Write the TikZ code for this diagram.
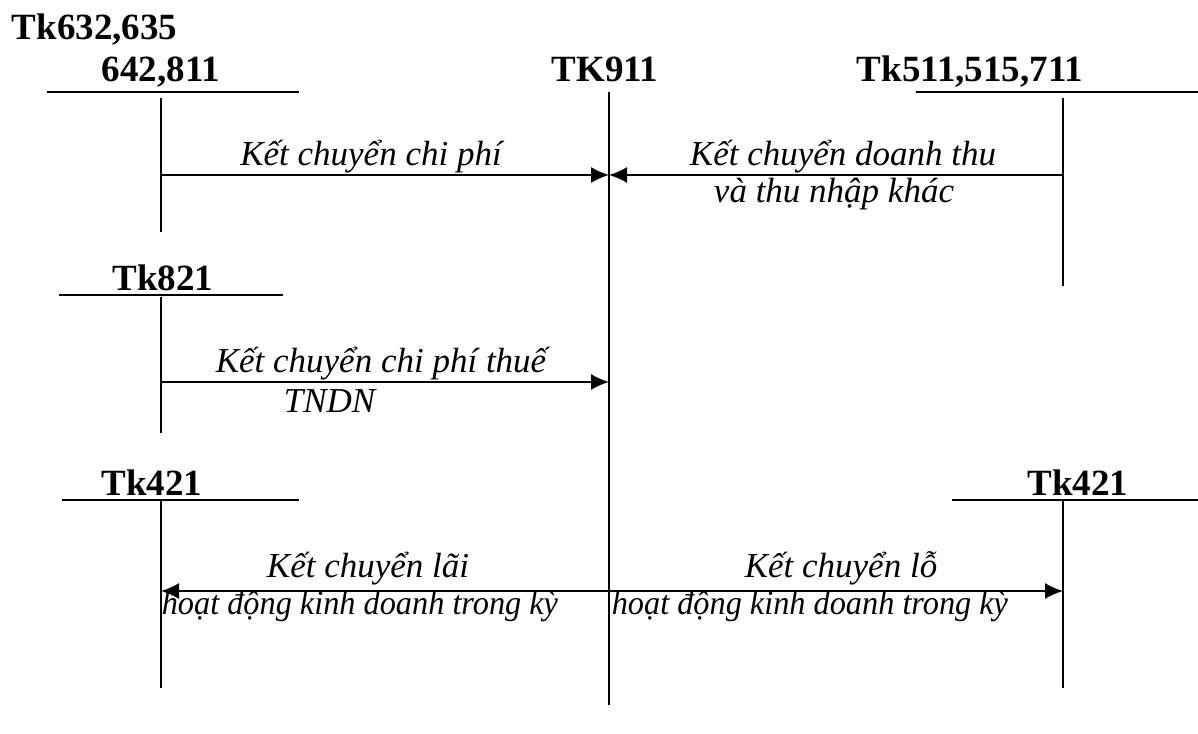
\documentclass[tikz,border=0pt]{standalone}
\usepackage{fontspec}
\usepackage{graphicx}
\setmainfont{Liberation Serif}
\usetikzlibrary{arrows.meta}
\begin{document}
\begin{tikzpicture}[x=1pt,y=-1pt,line width=1.6pt,
  acct/.style={font=\bfseries\fontsize{37}{42}\selectfont,inner sep=0pt,anchor=base},
  lbl/.style={font=\itshape\fontsize{35}{40}\selectfont,inner sep=0pt,anchor=base},
  lblsm/.style={font=\itshape\fontsize{34}{40}\selectfont,inner sep=0pt,anchor=base west},
  flow/.style={-{Latex[length=18pt,width=16pt]}}]
\path[use as bounding box] (0,0) rectangle (1198,733);

% account labels
\node[acct,anchor=base west] (h1a) at (11,40) {Tk632,635};
\node[acct] (h1b) at (161,82) {642,811};
\node[acct] (h911) at (605,82) {TK911};
\node[acct] (h511) at (970,82) {Tk511,515,711};
\node[acct] (h821) at (163,290) {Tk821};
\node[acct] (h421l) at (152,495) {Tk421};
\node[acct] (h421r) at (1078,495) {Tk421};

% T-account coordinates
\coordinate (a1l) at (47,92);   \coordinate (a1r) at (299,92);
\coordinate (a1t) at (161,98);  \coordinate (a1b) at (161,232);
\coordinate (a911t) at (609,92); \coordinate (a911b) at (609,705);
\coordinate (a5l) at (916,92);  \coordinate (a5r) at (1198,92);
\coordinate (a5t) at (1063,98); \coordinate (a5b) at (1063,286);
\coordinate (a8l) at (59,295);  \coordinate (a8r) at (283,295);
\coordinate (a8t) at (161,297); \coordinate (a8b) at (161,433);
\coordinate (a4l) at (62,500);  \coordinate (a4r) at (299,500);
\coordinate (a4t) at (161,500); \coordinate (a4b) at (161,688);
\coordinate (a4Rl) at (952,500); \coordinate (a4Rr) at (1198,500);
\coordinate (a4Rt) at (1063,500); \coordinate (a4Rb) at (1063,688);

\draw (a1l) -- (a1r); \draw (a1t) -- (a1b);
\draw (a911t) -- (a911b);
\draw (a5l) -- (a5r); \draw (a5t) -- (a5b);
\draw (a8l) -- (a8r); \draw (a8t) -- (a8b);
\draw (a4l) -- (a4r); \draw (a4t) -- (a4b);
\draw (a4Rl) -- (a4Rr); \draw (a4Rt) -- (a4Rb);

% arrow endpoints
\coordinate (f1s) at (161,175); \coordinate (f1e) at (609,175);
\coordinate (f2s) at (1063,175); \coordinate (f2e) at (609,175);
\coordinate (f3s) at (161,382); \coordinate (f3e) at (609,382);
\coordinate (f4s) at (609,591); \coordinate (f4e) at (161,591);
\coordinate (f5s) at (609,591); \coordinate (f5e) at (1063,591);

\draw[flow] (f1s) -- (f1e);
\draw[flow] (f2s) -- (f2e);
\draw[flow] (f3s) -- (f3e);
\draw[flow] (f4s) -- (f4e);
\draw[flow] (f5s) -- (f5e);

% labels
\node[lbl] (t1) at (371,165) {Kết chuyển chi phí};
\node[lbl] (t2a) at (843,165) {Kết chuyển doanh thu};
\node[lbl] (t2b) at (834,202) {và thu nhập khác};
\node[lbl] (t3a) at (381,372) {Kết chuyển chi phí thuế};
\node[lbl,anchor=base west] (t3b) at (283,412) {TNDN};
\node[lbl] (t4a) at (368,577) {Kết chuyển lãi};
\node[lblsm] (t4b) at (161,614) {\scalebox{0.95}[1]{hoạt động kinh doanh trong kỳ}};
\node[lbl] (t5a) at (841,577) {Kết chuyển lỗ};
\node[lblsm] (t5b) at (611,614) {\scalebox{0.95}[1]{hoạt động kinh doanh trong kỳ}};
\end{tikzpicture}
\end{document}
